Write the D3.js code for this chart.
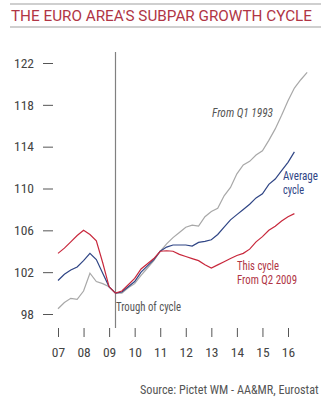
<!DOCTYPE html>
<html>
<head>
<meta charset="utf-8">
<script src="https://cdn.jsdelivr.net/npm/d3@7"></script>
<style>
  body { margin: 0; background: #fff; }
  .narrow { font-family: "Liberation Sans Narrow", "Roboto Condensed", "Arial Narrow", sans-serif; }
  .axis path { display: none; }
</style>
</head>
<body>
<div id="chart"></div>
<script>
// quarterly index values, rebased to 100 at cycle trough (Q2 2009 on the x axis)
var thisCycle = [103.8, 104.3, 104.9, 105.5, 106.0, 105.6, 105.0, 102.9, 100.6, 100.0,
    100.2, 100.8, 101.4, 102.3, 102.8, 103.3, 104.0, 104.05, 104.0, 103.7,
    103.5, 103.3, 103.1, 102.7, 102.4, 102.7, 103.0, 103.3, 103.6, 103.8,
    104.2, 104.9, 105.4, 106.0, 106.4, 106.9, 107.3, 107.6];
var averageCycle = [101.2, 101.8, 102.2, 102.5, 103.1, 103.8, 103.2, 101.9, 100.6, 100.0,
    100.1, 100.6, 101.1, 102.0, 102.6, 103.2, 104.0, 104.4, 104.6, 104.6,
    104.6, 104.5, 104.85, 104.95, 105.1, 105.6, 106.3, 107.0, 107.5, 108.0,
    108.5, 109.1, 109.5, 110.4, 110.9, 111.7, 112.5, 113.5];
var from1993 = [98.5, 99.1, 99.5, 99.4, 100.2, 101.9, 101.1, 100.9, 100.6, 100.0,
    100.0, 100.5, 100.9, 101.7, 102.4, 103.1, 104.0, 104.7, 105.3, 105.8,
    106.3, 106.5, 106.4, 107.3, 107.8, 108.1, 109.3, 110.1, 111.4, 112.25,
    112.6, 113.2, 113.6, 114.6, 115.7, 117.0, 118.4, 119.6, 120.4, 121.1];
var yearTicks = [2007, 2008, 2009, 2010, 2011, 2012, 2013, 2014, 2015, 2016];
var valueTicks = [98, 102, 106, 110, 114, 118, 122];
var startYear = 2007;
var troughYear = 2009.25;

var width = 327, height = 400;

var svg = d3.select("#chart").append("svg")
    .attr("width", width)
    .attr("height", height);

var x = d3.scaleLinear().domain([2007, 2016]).range([58, 288]);
var y = d3.scaleLinear().domain([98, 122]).range([314, 63]);

/*========== Title ===========*/
svg.append("line").attr("x1", 10).attr("x2", 321).attr("y1", 4).attr("y2", 4)
    .attr("stroke", "#cfcfcf").attr("stroke-width", 2);
svg.append("line").attr("x1", 10).attr("x2", 321).attr("y1", 27).attr("y2", 27)
    .attr("stroke", "#cfcfcf").attr("stroke-width", 2);
svg.append("text")
    .attr("x", 11).attr("y", 21)
    .attr("textLength", 301).attr("lengthAdjust", "spacingAndGlyphs")
    .style("font-family", "Roboto, 'Open Sans', sans-serif")
    .style("font-size", "14.5px")
    .attr("fill", "#b03545")
    .text("THE EURO AREA'S SUBPAR GROWTH CYCLE");

/*========== Axes ===========*/
var yAxis = svg.append("g")
    .attr("class", "axis narrow")
    .attr("transform", "translate(53,0)")
    .call(d3.axisLeft(y).tickValues(valueTicks).tickSize(10).tickPadding(9).tickFormat(d3.format("d")));
yAxis.selectAll("line").attr("stroke", "#555");
yAxis.selectAll("text").attr("fill", "#444").style("font-size", "13.5px")
    .style("font-family", "'Liberation Sans Narrow', 'Roboto Condensed', sans-serif");

var xAxis = svg.append("g")
    .attr("class", "axis narrow")
    .attr("transform", "translate(0,328)")
    .call(d3.axisBottom(x).tickValues(yearTicks).tickSize(9).tickPadding(10)
        .tickFormat(function (d) { return String(d).slice(2); }));
xAxis.selectAll("line").attr("stroke", "#555");
xAxis.selectAll("text").attr("fill", "#444").style("font-size", "13.5px")
    .style("font-family", "'Liberation Sans Narrow', 'Roboto Condensed', sans-serif");

/*========== Trough marker ===========*/
svg.append("line")
    .attr("x1", x(troughYear)).attr("x2", x(troughYear))
    .attr("y1", 52).attr("y2", 328)
    .attr("stroke", "#808080").attr("stroke-width", 1.2);

/*========== Lines ===========*/
var line = d3.line()
    .x(function (d, i) { return x(startYear + i / 4); })
    .y(function (d) { return y(d); });

var series = [
    { values: from1993, color: "#a8a8a8" },
    { values: averageCycle, color: "#2f4585" },
    { values: thisCycle, color: "#c8283c" }
];
svg.append("g").selectAll("path")
    .data(series)
    .enter()
    .append("path")
    .attr("d", function (d) { return line(d.values); })
    .attr("fill", "none")
    .attr("stroke", function (d) { return d.color; })
    .attr("stroke-width", 1.2);

/*========== Labels ===========*/
// condensed font is narrower than the fallback, so squeeze to measured width
function label(txt, lx, ly, len, color, italic, size) {
    svg.append("text")
        .attr("class", "narrow")
        .attr("x", lx).attr("y", ly)
        .attr("textLength", len).attr("lengthAdjust", "spacingAndGlyphs")
        .attr("fill", color)
        .style("font-size", (size || 12.5) + "px")
        .style("font-style", italic ? "italic" : "normal")
        .text(txt);
}
label("From Q1 1993", 212, 117, 61, "#555", true);
label("Average", 283, 180, 35, "#2f4585");
label("cycle", 283, 194, 21, "#2f4585");
label("This cycle", 237, 270, 42, "#b03545");
label("From Q2 2009", 237, 284, 60, "#b03545");
label("Trough of cycle", 116, 311, 65, "#555");

svg.append("text")
    .attr("class", "narrow")
    .attr("x", 140).attr("y", 394)
    .attr("fill", "#555")
    .style("font-size", "12.2px")
    .text("Source: Pictet WM - AA&MR, Eurostat");
</script>
</body>
</html>
